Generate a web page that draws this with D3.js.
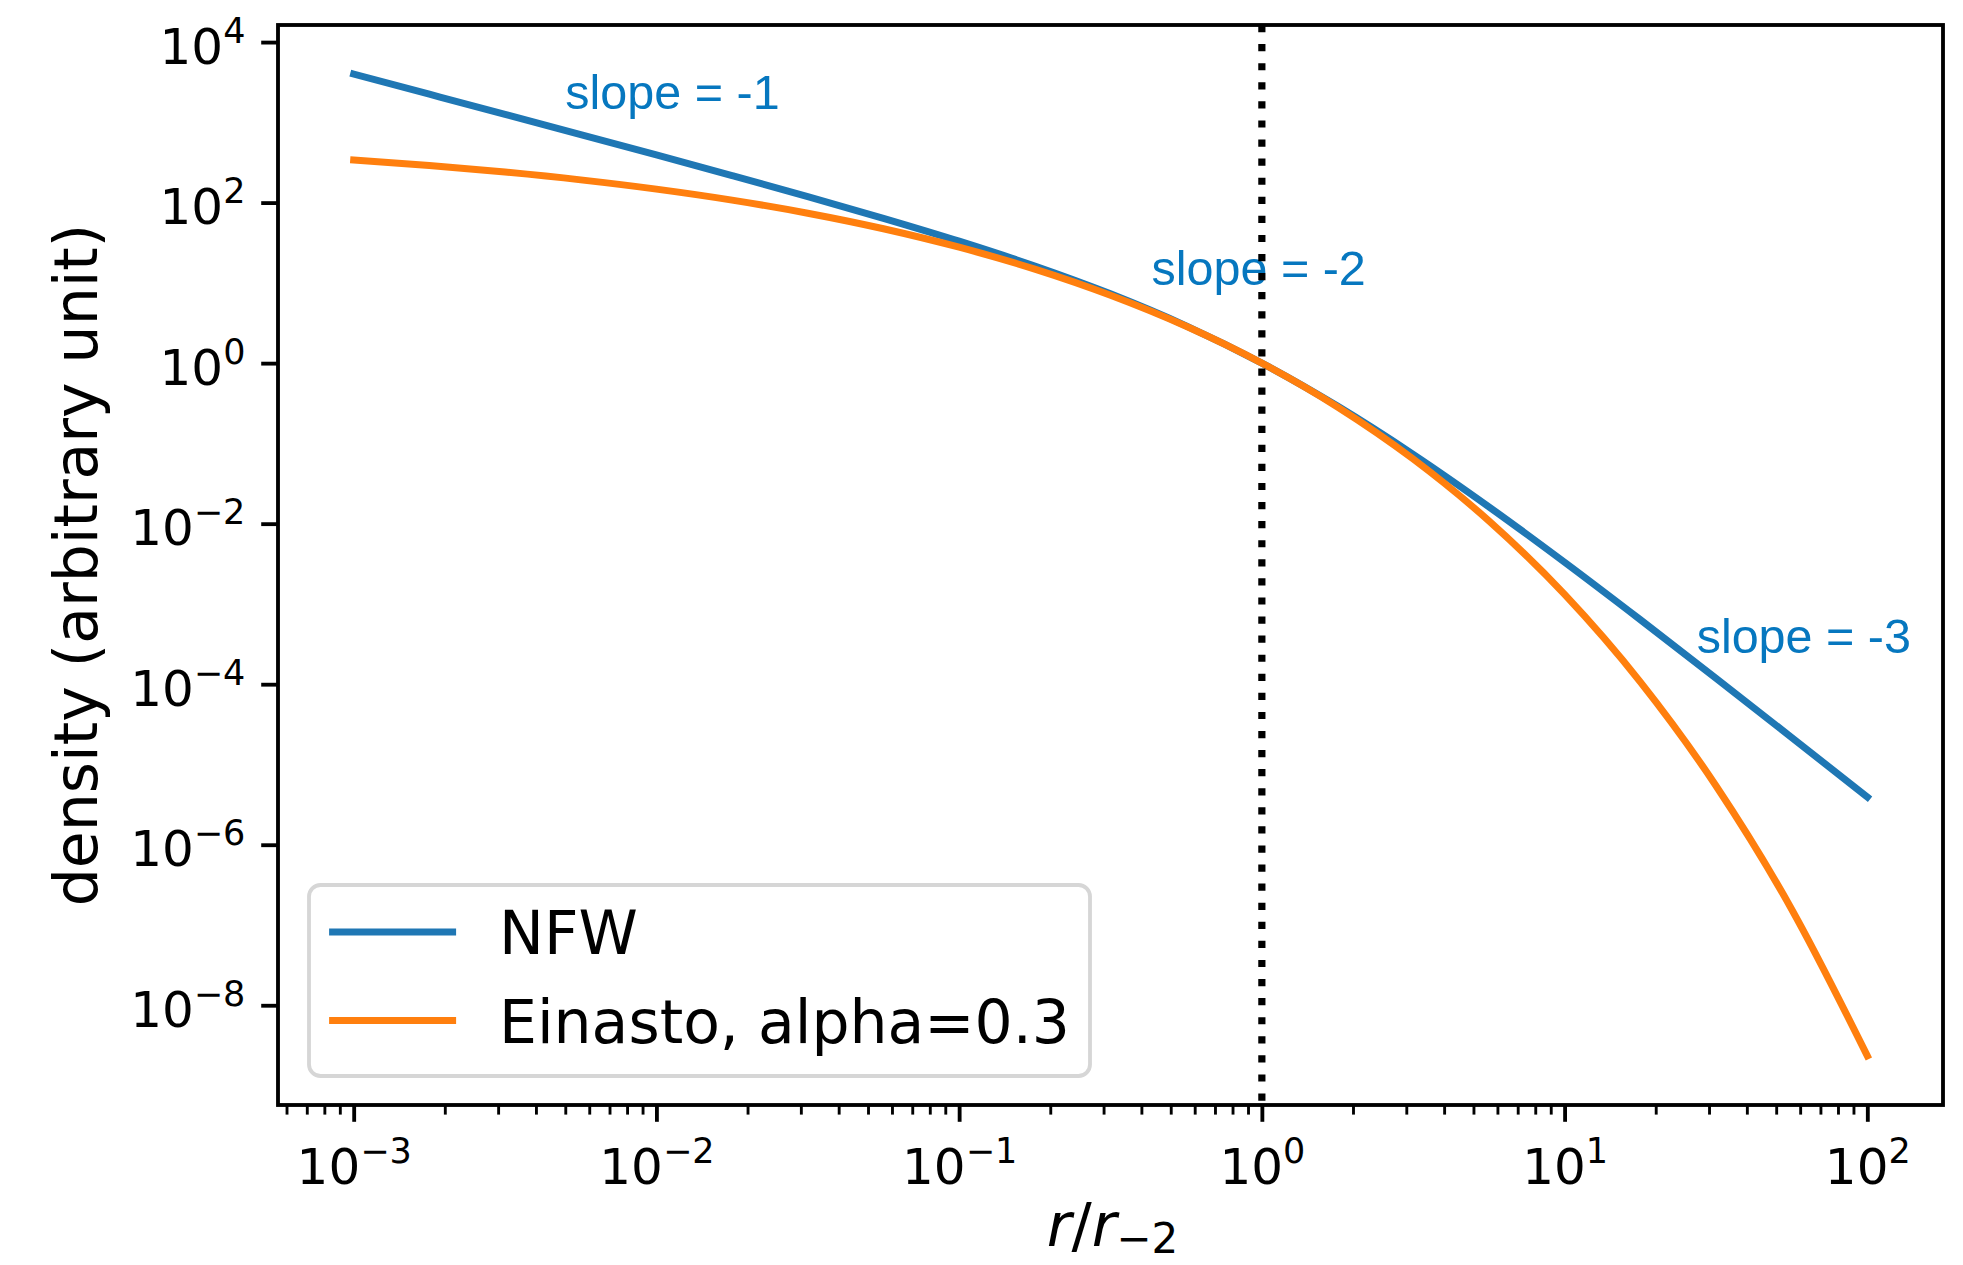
<!DOCTYPE html>
<html>
<head>
<meta charset="utf-8">
<script src="https://cdn.jsdelivr.net/npm/d3@7"></script>
<style>
  body { margin: 0; background: #fff; }
  text { font-family: "DejaVu Sans", sans-serif; }
</style>
</head>
<body>
<svg></svg>
<script>
// r / r_-2, sampled every quarter decade
var radius = [0.001, 0.001778, 0.003162, 0.005623, 0.01, 0.01778, 0.03162, 0.05623, 0.1, 0.1778, 0.3162,
    0.5623, 1, 1.778, 3.162, 5.623, 10, 17.78, 31.62, 56.23, 100];
var nfw = [3992, 2241, 1257, 703.4, 392.1, 217.1, 118.9, 63.76, 33.06, 16.21, 7.301,
    2.914, 1.0, 0.2914, 0.07301, 0.01621, 0.003306, 6.376e-4, 1.189e-4, 2.171e-5, 3.921e-6];
var einasto = [339.4, 289.8, 240.1, 192.0, 147.2, 107.4, 73.79, 47.25, 27.81, 14.82, 7.008,
    2.879, 1.0, 0.2846, 0.06393, 0.01083, 0.001314, 1.070e-4, 5.436e-6, 1.574e-7, 2.338e-9];
var seriesNames = ["NFW", "Einasto, alpha=0.3"];
var xMajor = [1e-3, 1e-2, 1e-1, 1, 10, 100];
var yMajor = [1e4, 1e2, 1, 1e-2, 1e-4, 1e-6, 1e-8];
var slopeLabels = ["slope = -1", "slope = -2", "slope = -3"];

// where the annotations sit, in data coordinates
var slopeAt = [[0.00500, 1470], [0.432, 9.4], [27.3, 2.45e-4]];

var svgWidth = 1963, svgHeight = 1265;
var plotLeft = 278, plotRight = 1943, plotTop = 25, plotBottom = 1105;
var pt = 4.8; // pixels per point
var colors = ["#1f77b4", "#ff7f0e"];

var svg = d3.select('svg')
    .attr("width", svgWidth)
    .attr("height", svgHeight)
    ;

// matplotlib-like 5% margins in log space
function logPad(vals) {
    var lo = Math.log10(d3.min(vals)), hi = Math.log10(d3.max(vals)), p = (hi - lo) * 0.05;
    return [Math.pow(10, lo - p), Math.pow(10, hi + p)];
}

var x = d3.scaleLog().domain(logPad(radius)).range([plotLeft, plotRight]);
var y = d3.scaleLog().domain(logPad(nfw.concat(einasto))).range([plotBottom, plotTop]);

var xMinor = [];
for (var e = -4; e <= 2; e++) {
    for (var k = 2; k <= 9; k++) {
        var v = k * Math.pow(10, e);
        if (v >= x.domain()[0] && v <= x.domain()[1]) xMinor.push(v);
    }
}

function powerLabel(sel) {
    sel.each(function (d) {
        var t = d3.select(this).text(null);
        var ex = String(Math.round(Math.log10(d))).replace('-', '\u2212');
        t.append('tspan').text('10');
        t.append('tspan').attr('dy', -21).style('font-size', '35px').text(ex);
    });
}

// curves
var line = d3.line()
    .x(function (d) { return x(d[0]); })
    .y(function (d) { return y(d[1]); })
    .curve(d3.curveMonotoneX)
    ;

[nfw, einasto].forEach(function (s, i) {
    svg.append('path')
        .datum(radius.map(function (r, j) { return [r, s[j]]; }))
        .attr('d', line)
        .attr('fill', 'none')
        .attr('stroke', colors[i])
        .attr('stroke-width', 7)
        .attr('stroke-linecap', 'square')
        .attr('stroke-linejoin', 'round')
        ;
});

// slope notes
svg.selectAll('text.slope')
    .data(slopeLabels)
    .enter()
    .append('text')
    .attr('class', 'slope')
    .attr('x', function (d, i) { return x(slopeAt[i][0]); })
    .attr('y', function (d, i) { return y(slopeAt[i][1]); })
    .style('font-family', '"Liberation Sans", Arial, sans-serif')
    .style('font-size', '48.5px')
    .attr('fill', '#0677bf')
    .text(function (d) { return d; })
    ;

// r = r_-2 marker
svg.append('line')
    .attr('x1', x(1)).attr('x2', x(1))
    .attr('y1', plotTop).attr('y2', plotBottom)
    .attr('stroke', '#000')
    .attr('stroke-width', 1.5 * pt)
    .attr('stroke-dasharray', (1.5 * pt) + ',' + (1.65 * 1.5 * pt))
    ;

// x axis
var gx = svg.append('g').attr('transform', 'translate(0,' + plotBottom + ')');
gx.append('g')
    .call(d3.axisBottom(x).tickValues(xMinor).tickSize(2 * pt).tickFormat(''))
    .call(function (g) { g.select('.domain').remove(); g.selectAll('line').attr('stroke-width', 0.6 * pt); })
    ;
gx.append('g')
    .call(d3.axisBottom(x).tickValues(xMajor).tickSize(3.5 * pt))
    .attr('font-size', 50).attr('font-family', '"DejaVu Sans", sans-serif')
    .call(function (g) {
        g.select('.domain').remove();
        g.selectAll('line').attr('stroke-width', 0.8 * pt);
        g.selectAll('text').attr('y', 79).attr('dy', null).call(powerLabel);
    })
    ;

// y axis
var gy = svg.append('g').attr('transform', 'translate(' + plotLeft + ',0)');
gy.call(d3.axisLeft(y).tickValues(yMajor).tickSize(3.5 * pt))
    .attr('font-size', 50).attr('font-family', '"DejaVu Sans", sans-serif')
    .call(function (g) {
        g.select('.domain').remove();
        g.selectAll('line').attr('stroke-width', 0.8 * pt);
        g.selectAll('text').attr('x', -7 * pt + 1).attr('y', 21).attr('dy', null).call(powerLabel);
    })
    ;

// frame
svg.append('rect')
    .attr('x', plotLeft).attr('y', plotTop)
    .attr('width', plotRight - plotLeft).attr('height', plotBottom - plotTop)
    .attr('fill', 'none')
    .attr('stroke', '#000')
    .attr('stroke-width', 0.8 * pt)
    ;

// axis labels
var xl = svg.append('text')
    .attr('x', (plotLeft + plotRight) / 2 + 2)
    .attr('y', 1246)
    .attr('text-anchor', 'middle')
    .style('font-size', '60px')
    ;
xl.append('tspan').style('font-style', 'italic').text('r');
xl.append('tspan').text('/');
xl.append('tspan').style('font-style', 'italic').text('r');
xl.append('tspan').attr('dy', 7).style('font-size', '42px').text('\u22122');

svg.append('text')
    .attr('transform', 'translate(97,' + ((plotTop + plotBottom) / 2) + ') rotate(-90)')
    .attr('text-anchor', 'middle')
    .style('font-size', '60px')
    .text('density (arbitrary unit)')
    ;

// legend
var legend = svg.append('g');
legend.append('rect')
    .attr('x', 309).attr('y', 885)
    .attr('width', 781).attr('height', 191)
    .attr('rx', 11.5)
    .attr('fill', '#fff').attr('fill-opacity', 0.8)
    .attr('stroke', '#d6d6d6')
    .attr('stroke-width', 0.8 * pt)
    ;
var item = legend.selectAll('g.item')
    .data(seriesNames)
    .enter()
    .append('g')
    .attr('transform', function (d, i) { return 'translate(0,' + (932 + i * 88.5) + ')'; })
    ;
item.append('line')
    .attr('x1', 332.6).attr('x2', 452.6)
    .attr('stroke', function (d, i) { return colors[i]; })
    .attr('stroke-width', 7)
    .attr('stroke-linecap', 'square')
    ;
item.append('text')
    .attr('x', 499).attr('y', 22)
    .style('font-size', '60px')
    .text(function (d) { return d; })
    ;
</script>
</body>
</html>
